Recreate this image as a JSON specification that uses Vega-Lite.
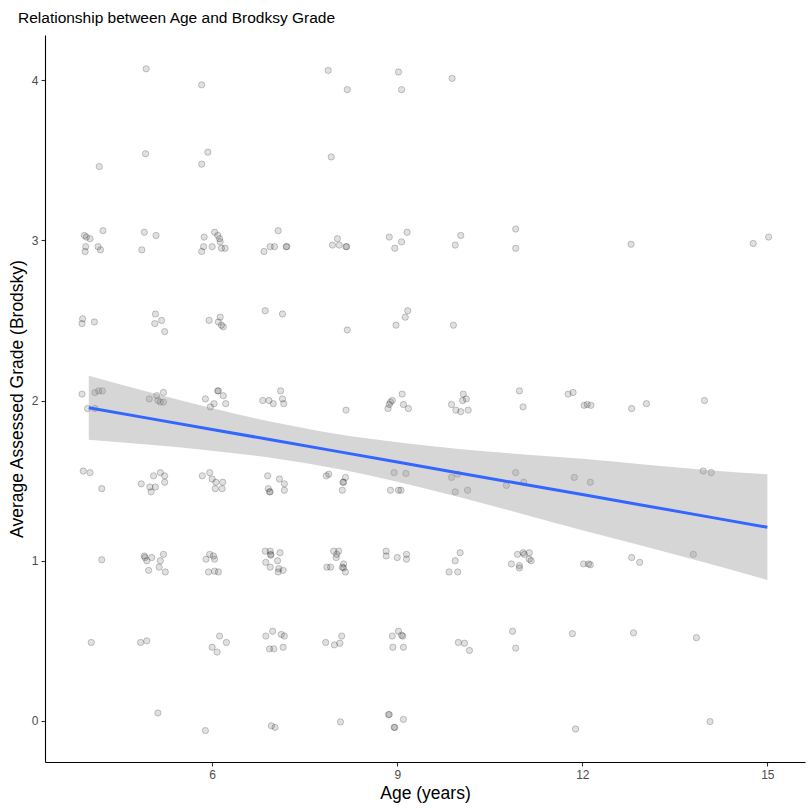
{
  "$schema": "https://vega.github.io/schema/vega-lite/v6.json",
  "width": 760,
  "height": 727,
  "autosize": {"type": "none"},
  "padding": {"left": 45, "top": 35, "right": 5, "bottom": 48},
  "background": "white",
  "title": {
    "text": "Relationship between Age and Brodksy Grade",
    "anchor": "start",
    "frame": "group",
    "dx": -27,
    "offset": 9,
    "font": "Liberation Sans",
    "fontSize": 15.5,
    "fontWeight": "normal",
    "color": "#000000"
  },
  "config": {
    "view": {"stroke": null},
    "axis": {
      "grid": false,
      "domainColor": "#000000",
      "domainWidth": 1.1,
      "tickColor": "#333333",
      "tickWidth": 1.1,
      "tickSize": 4,
      "labelFont": "Liberation Sans",
      "labelFontSize": 12,
      "labelColor": "#4d4d4d",
      "labelPadding": 3,
      "titleFont": "Liberation Sans",
      "titleFontSize": 17.5,
      "titleFontWeight": "normal",
      "titleColor": "#000000"
    }
  },
  "datasets": {
    "pts": [
      {"a":4.93,"g":4.07},{"a":5.83,"g":3.97},{"a":7.88,"g":4.06},{"a":8.19,"g":3.94},{"a":9.02,"g":4.05},{"a":9.07,"g":3.94},{"a":9.89,"g":4.01},
      {"a":4.17,"g":3.46},{"a":4.92,"g":3.54},{"a":5.83,"g":3.475},{"a":5.93,"g":3.55},{"a":7.93,"g":3.52},
      {"a":3.93,"g":3.03},{"a":3.96,"g":3.02},{"a":4.02,"g":3.01},{"a":4.23,"g":3.06},{"a":3.95,"g":2.96},{"a":3.94,"g":2.93},{"a":4.15,"g":2.96},{"a":4.19,"g":2.94},
      {"a":4.90,"g":3.05},{"a":5.09,"g":3.03},{"a":4.86,"g":2.94},
      {"a":5.87,"g":3.02},{"a":6.04,"g":3.05},{"a":6.09,"g":3.03},{"a":6.12,"g":3.01},{"a":6.13,"g":2.99},{"a":5.86,"g":2.96},{"a":6.00,"g":2.96},{"a":5.83,"g":2.93},{"a":6.15,"g":2.95},{"a":6.21,"g":2.95},
      {"a":7.07,"g":3.06},{"a":6.84,"g":2.93},{"a":6.94,"g":2.96},{"a":7.01,"g":2.96},{"a":7.20,"g":2.96},{"a":7.21,"g":2.96},
      {"a":8.03,"g":3.01},{"a":7.95,"g":2.97},{"a":8.06,"g":2.97},{"a":8.17,"g":2.96},{"a":8.18,"g":2.96},
      {"a":8.87,"g":3.02},{"a":9.16,"g":3.05},{"a":9.07,"g":2.99},{"a":8.96,"g":2.95},
      {"a":10.03,"g":3.03},{"a":9.94,"g":2.97},{"a":10.92,"g":3.07},{"a":10.92,"g":2.95},
      {"a":12.79,"g":2.975},{"a":14.77,"g":2.98},{"a":15.02,"g":3.02},
      {"a":3.90,"g":2.51},{"a":3.89,"g":2.48},{"a":4.09,"g":2.49},{"a":5.08,"g":2.54},{"a":5.18,"g":2.50},{"a":5.07,"g":2.48},{"a":5.23,"g":2.43},
      {"a":5.95,"g":2.50},{"a":6.13,"g":2.52},{"a":6.10,"g":2.49},{"a":6.15,"g":2.47},{"a":6.18,"g":2.46},{"a":6.86,"g":2.56},{"a":7.14,"g":2.54},
      {"a":8.19,"g":2.44},{"a":8.98,"g":2.47},{"a":9.13,"g":2.52},{"a":9.17,"g":2.56},{"a":9.91,"g":2.47},
      {"a":3.89,"g":2.04},{"a":4.10,"g":2.05},{"a":4.16,"g":2.06},{"a":4.22,"g":2.06},{"a":3.98,"g":1.95},{"a":4.10,"g":1.95},
      {"a":4.98,"g":2.01},{"a":5.10,"g":2.03},{"a":5.21,"g":2.05},{"a":5.12,"g":2.00},{"a":5.16,"g":1.99},{"a":5.21,"g":1.99},
      {"a":6.09,"g":2.06},{"a":6.10,"g":2.06},{"a":6.18,"g":2.03},{"a":5.89,"g":2.01},{"a":6.03,"g":1.98},{"a":5.97,"g":1.96},{"a":6.22,"g":1.98},
      {"a":6.82,"g":2.00},{"a":6.92,"g":2.00},{"a":6.99,"g":1.98},{"a":7.11,"g":2.06},{"a":7.14,"g":2.01},{"a":7.16,"g":1.98},
      {"a":8.17,"g":1.94},{"a":8.85,"g":1.95},{"a":8.87,"g":1.975},{"a":8.89,"g":1.99},{"a":8.92,"g":2.00},{"a":9.08,"g":2.04},{"a":9.10,"g":1.975},{"a":9.18,"g":1.95},
      {"a":9.88,"g":1.975},{"a":9.95,"g":1.94},{"a":10.03,"g":1.93},{"a":10.15,"g":1.94},{"a":10.07,"g":2.04},{"a":10.06,"g":2.00},{"a":10.12,"g":2.01},
      {"a":10.98,"g":2.06},{"a":11.04,"g":1.96},{"a":11.77,"g":2.04},{"a":11.85,"g":2.05},{"a":12.03,"g":1.97},{"a":12.08,"g":1.975},{"a":12.14,"g":1.97},
      {"a":12.80,"g":1.95},{"a":13.04,"g":1.98},{"a":13.98,"g":2.00},
      {"a":3.91,"g":1.56},{"a":4.02,"g":1.55},{"a":4.21,"g":1.45},
      {"a":5.05,"g":1.53},{"a":5.16,"g":1.55},{"a":5.23,"g":1.53},{"a":4.85,"g":1.48},{"a":4.99,"g":1.46},{"a":5.08,"g":1.46},{"a":5.01,"g":1.43},{"a":5.23,"g":1.49},
      {"a":5.84,"g":1.53},{"a":5.96,"g":1.55},{"a":6.00,"g":1.51},{"a":6.06,"g":1.49},{"a":6.17,"g":1.49},{"a":6.05,"g":1.45},{"a":6.16,"g":1.45},
      {"a":6.90,"g":1.53},{"a":7.09,"g":1.51},{"a":7.17,"g":1.48},{"a":7.17,"g":1.44},{"a":6.91,"g":1.45},{"a":6.94,"g":1.43},{"a":6.93,"g":1.43},
      {"a":7.85,"g":1.53},{"a":7.89,"g":1.54},{"a":8.16,"g":1.52},{"a":8.12,"g":1.49},{"a":8.13,"g":1.49},{"a":8.11,"g":1.44},
      {"a":8.95,"g":1.55},{"a":9.14,"g":1.545},{"a":8.89,"g":1.44},{"a":9.02,"g":1.44},{"a":9.06,"g":1.44},
      {"a":9.88,"g":1.52},{"a":9.98,"g":1.54},{"a":9.94,"g":1.43},{"a":10.14,"g":1.44},
      {"a":10.92,"g":1.55},{"a":10.77,"g":1.47},{"a":11.05,"g":1.49},{"a":11.87,"g":1.52},{"a":12.13,"g":1.49},{"a":13.96,"g":1.56},{"a":14.09,"g":1.55},
      {"a":4.21,"g":1.006},{"a":4.90,"g":1.03},{"a":4.91,"g":1.02},{"a":4.94,"g":1.00},{"a":5.02,"g":1.02},{"a":5.16,"g":1.00},{"a":5.21,"g":1.04},{"a":4.97,"g":0.94},{"a":5.14,"g":0.96},{"a":5.24,"g":0.93},
      {"a":5.90,"g":1.01},{"a":5.96,"g":1.04},{"a":6.02,"g":1.03},{"a":6.04,"g":1.01},{"a":5.94,"g":0.93},{"a":6.04,"g":0.935},{"a":6.10,"g":0.93},
      {"a":6.86,"g":1.06},{"a":6.94,"g":1.06},{"a":6.95,"g":1.04},{"a":6.95,"g":1.035},{"a":7.10,"g":1.05},{"a":6.87,"g":0.99},{"a":6.94,"g":0.96},{"a":7.06,"g":1.00},{"a":7.08,"g":0.95},{"a":7.15,"g":0.94},{"a":7.07,"g":0.93},
      {"a":7.97,"g":1.06},{"a":8.05,"g":1.06},{"a":8.01,"g":1.02},{"a":8.02,"g":1.04},{"a":7.86,"g":0.96},{"a":7.92,"g":0.96},{"a":8.13,"g":0.98},{"a":8.11,"g":0.96},{"a":8.13,"g":0.955},{"a":8.16,"g":0.93},
      {"a":8.82,"g":1.06},{"a":8.82,"g":1.03},{"a":9.00,"g":1.02},{"a":9.15,"g":1.04},{"a":9.15,"g":1.01},
      {"a":10.02,"g":1.05},{"a":9.94,"g":1.00},{"a":9.84,"g":0.93},{"a":9.98,"g":0.93},
      {"a":10.95,"g":1.04},{"a":11.04,"g":1.05},{"a":11.14,"g":1.05},{"a":11.06,"g":1.04},{"a":10.85,"g":0.98},{"a":10.98,"g":0.97},{"a":10.98,"g":0.955},{"a":11.14,"g":1.01},{"a":11.17,"g":1.00},
      {"a":12.02,"g":0.98},{"a":12.10,"g":0.98},{"a":12.13,"g":0.975},{"a":12.80,"g":1.02},{"a":12.93,"g":0.99},{"a":13.80,"g":1.04},
      {"a":4.04,"g":0.49},{"a":4.84,"g":0.49},{"a":4.94,"g":0.50},
      {"a":6.12,"g":0.53},{"a":6.23,"g":0.49},{"a":6.00,"g":0.46},{"a":6.08,"g":0.43},
      {"a":6.87,"g":0.53},{"a":6.98,"g":0.56},{"a":7.12,"g":0.54},{"a":7.17,"g":0.53},{"a":6.93,"g":0.45},{"a":7.00,"g":0.45},{"a":7.15,"g":0.46},
      {"a":7.84,"g":0.49},{"a":7.98,"g":0.475},{"a":8.07,"g":0.485},{"a":8.10,"g":0.53},
      {"a":8.92,"g":0.53},{"a":9.02,"g":0.56},{"a":9.07,"g":0.535},{"a":9.09,"g":0.53},{"a":8.93,"g":0.46},{"a":9.10,"g":0.46},
      {"a":9.99,"g":0.49},{"a":10.09,"g":0.485},{"a":10.17,"g":0.44},{"a":10.87,"g":0.56},{"a":10.92,"g":0.455},
      {"a":11.84,"g":0.545},{"a":12.83,"g":0.55},{"a":13.85,"g":0.52},
      {"a":5.12,"g":0.05},{"a":5.89,"g":-0.06},{"a":6.96,"g":-0.03},{"a":7.02,"g":-0.04},{"a":8.08,"g":-0.006},
      {"a":8.86,"g":0.04},{"a":8.87,"g":0.04},{"a":9.10,"g":0.01},{"a":8.95,"g":-0.04},{"a":8.96,"g":-0.04},
      {"a":11.89,"g":-0.05},{"a":14.07,"g":-0.004}
    ],
    "fit": [
      {"a":4,"fit":1.955,"lo":1.755,"hi":2.155},
      {"a":5,"fit":1.887,"lo":1.724,"hi":2.050},
      {"a":6,"fit":1.819,"lo":1.687,"hi":1.951},
      {"a":7,"fit":1.752,"lo":1.640,"hi":1.864},
      {"a":8,"fit":1.684,"lo":1.576,"hi":1.792},
      {"a":9,"fit":1.616,"lo":1.493,"hi":1.739},
      {"a":10,"fit":1.548,"lo":1.398,"hi":1.698},
      {"a":11,"fit":1.480,"lo":1.295,"hi":1.665},
      {"a":12,"fit":1.413,"lo":1.190,"hi":1.636},
      {"a":13,"fit":1.345,"lo":1.090,"hi":1.600},
      {"a":14,"fit":1.277,"lo":0.987,"hi":1.567},
      {"a":15,"fit":1.209,"lo":0.880,"hi":1.540}
    ]
  },
  "layer": [
    {
      "data": {"name": "pts"},
      "mark": {"type": "point", "shape": "circle", "filled": false, "size": 40, "fill": "#000000", "fillOpacity": 0.12, "stroke": "#000000", "strokeOpacity": 0.2, "strokeWidth": 1},
      "encoding": {
        "x": {"field": "a", "type": "quantitative", "scale": {"domain": [3.29, 15.61], "nice": false, "zero": false},
              "axis": {"values": [6, 9, 12, 15], "format": "d", "title": "Age (years)", "titlePadding": 4}},
        "y": {"field": "g", "type": "quantitative", "scale": {"domain": [-0.256, 4.281], "nice": false, "zero": false},
              "axis": {"values": [0, 1, 2, 3, 4], "format": "d", "title": "Average Assessed Grade (Brodsky)", "titlePadding": 5}}
      }
    },
    {
      "data": {"name": "fit"},
      "mark": {"type": "area", "color": "#999999", "opacity": 0.4, "interpolate": "monotone"},
      "encoding": {
        "x": {"field": "a", "type": "quantitative"},
        "y": {"field": "lo", "type": "quantitative"},
        "y2": {"field": "hi"}
      }
    },
    {
      "data": {"name": "fit"},
      "mark": {"type": "line", "color": "#3366FF", "strokeWidth": 3},
      "encoding": {
        "x": {"field": "a", "type": "quantitative"},
        "y": {"field": "fit", "type": "quantitative"}
      }
    }
  ]
}
